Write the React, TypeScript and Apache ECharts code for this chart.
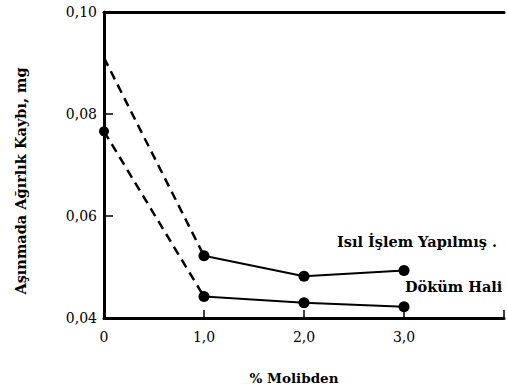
import React, { useEffect, useRef } from "react";
import * as echarts from "echarts";

const molibden = [0, 1, 2, 3];
const isilIslem = [0.091, 0.0522, 0.0482, 0.0493];
const dokumHali = [0.0766, 0.0442, 0.043, 0.0422];
const yTicks = ["0,04", "0,06", "0,08", "0,10"];
const xTickLabels: Record<number, string> = { 0: "0", 1: "1,0", 2: "2,0", 3: "3,0", 4: "" };

const FONT = "'DejaVu Serif', 'Liberation Serif', serif";

export default function App() {
  const ref = useRef<HTMLDivElement>(null);
  useEffect(() => {
    if (!ref.current) return;
    const chart = echarts.init(ref.current, undefined, { renderer: "svg" });
    const pts = (arr: number[], from: number, to: number) =>
      molibden.slice(from, to + 1).map((x, i) => [x, arr[from + i]]);
    const dashed = (arr: number[], name: string) => ({
      type: "line",
      name,
      data: pts(arr, 0, 1),
      symbol: "none",
      lineStyle: { color: "#000", width: 2.5, type: [9, 6] },
      z: 2,
    });
    const markers = (arr: number[], name: string, firstMarker: boolean) => ({
      type: "line",
      name,
      data: pts(arr, 0, 3).map((d, i) =>
        i === 0 ? { value: d, symbolSize: firstMarker ? 10 : 0 } : { value: d }
      ),
      symbol: "circle",
      symbolSize: 11,
      itemStyle: { color: "#000" },
      lineStyle: { color: "#000", width: 0 },
      z: 3,
    });
    const solidLine = (arr: number[], name: string) => ({
      type: "line",
      name,
      data: pts(arr, 1, 3),
      symbol: "none",
      lineStyle: { color: "#000", width: 2 },
      z: 2,
    });
    chart.setOption({
      animation: false,
      backgroundColor: "#fff",
      grid: {
        left: 104,
        width: 405,
        top: 12,
        bottom: 74,
        show: false,
      },
      xAxis: [
        {
          type: "value",
          min: 0,
          max: 4,
          interval: 1,
          name: "% Molibden",
          nameLocation: "middle",
          nameGap: 53,
          nameTextStyle: {
            fontFamily: FONT,
            fontSize: 13.5,
            fontWeight: "bold",
            color: "#000",
            padding: [0, 20, 0, 0],
          },
          axisLine: { show: true, lineStyle: { color: "#000", width: 3 } },
          axisTick: { show: true, inside: true, length: 8, lineStyle: { color: "#000", width: 1.5 } },
          axisLabel: {
            margin: 12,
            fontFamily: FONT,
            fontSize: 14,
            color: "#000",
            formatter: (v: number) => xTickLabels[v] ?? "",
          },
          splitLine: { show: false },
        },
        {
          type: "value",
          position: "top",
          min: 0,
          max: 4,
          interval: 1,
          axisLine: { show: true, lineStyle: { color: "#000", width: 3 } },
          axisTick: { show: false },
          axisLabel: { show: false },
          splitLine: { show: false },
        },
      ],
      yAxis: {
        type: "value",
        min: 0.04,
        max: 0.1,
        interval: 0.02,
        axisLine: { show: true, lineStyle: { color: "#000", width: 3 } },
        axisTick: { show: true, inside: true, length: 9, lineStyle: { color: "#000", width: 1.5 } },
        axisLabel: {
          margin: 7,
          fontFamily: FONT,
          fontSize: 14,
          color: "#000",
          formatter: (v: number) => yTicks[Math.round((v - 0.04) / 0.02)] ?? "",
        },
        splitLine: { show: false },
      },
      series: [
        dashed(isilIslem, "Isıl İşlem Yapılmış"),
        solidLine(isilIslem, "Isıl İşlem Yapılmış"),
        markers(isilIslem, "Isıl İşlem Yapılmış", false),
        dashed(dokumHali, "Döküm Hali"),
        solidLine(dokumHali, "Döküm Hali"),
        markers(dokumHali, "Döküm Hali", true),
      ],
      graphic: [
        {
          type: "text",
          x: 20,
          y: 181,
          rotation: Math.PI / 2,
          style: {
            text: "Aşınmada Ağırlık Kaybı, mg",
            font: `bold 14.5px ${FONT}`,
            fill: "#000",
            align: "center",
            verticalAlign: "middle",
          },
        },
        {
          type: "text",
          left: 337,
          top: 234,
          style: {
            text: "Isıl İşlem Yapılmış .",
            font: `bold 14.5px ${FONT}`,
            fill: "#000",
          },
        },
        {
          type: "text",
          left: 405,
          top: 279,
          style: {
            text: "Döküm Hali",
            font: `bold 14.5px ${FONT}`,
            fill: "#000",
          },
        },
      ],
    });
    return () => chart.dispose();
  }, []);
  return (
    <div
      ref={ref}
      style={{ position: "fixed", left: 0, top: 0, width: 507, height: 392 }}
    />
  );
}
